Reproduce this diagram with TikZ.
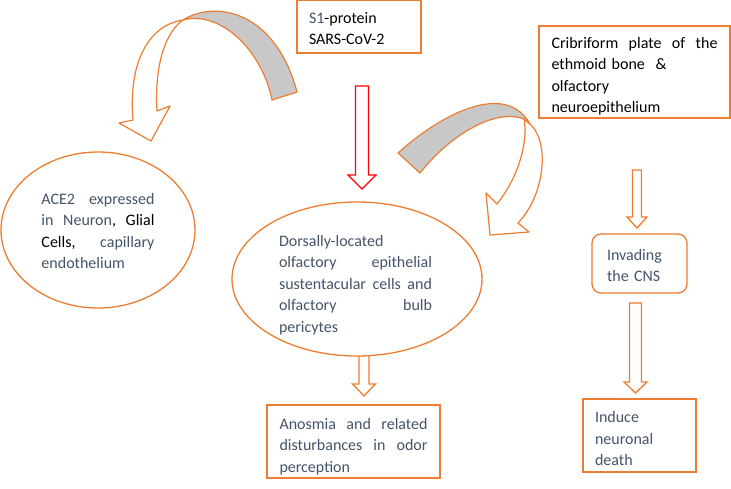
\documentclass[tikz,border=0pt]{standalone}
\usepackage{fontspec}
\setmainfont{Carlito}
\usetikzlibrary{shapes.geometric,calc}
\definecolor{org}{HTML}{ED7D31}
\definecolor{tb}{HTML}{44546A}
\definecolor{band}{HTML}{C8C8C8}
\newcommand{\blockarrow}[6]{%
  \draw[#1] ($(#2)+(-#4,0)$) -- ($(#3)+(-#4,-#6)$) -- ($(#3)+(-#5,-#6)$) -- (#3)
    -- ($(#3)+(#5,-#6)$) -- ($(#3)+(#4,-#6)$) -- ($(#2)+(#4,0)$) -- cycle;}
\begin{document}
\begin{tikzpicture}[x=1pt,y=-1pt,
  txt/.style={font=\fontsize{16}{21.5}\selectfont, text=tb, inner sep=0pt, align=left},
  obox/.style={draw=org, line width=1.3pt, fill=white, inner sep=0pt},
  oell/.style={ellipse, draw=org, line width=1.3pt, fill=white, inner sep=0pt},
  barrow/.style={draw=org, line width=1.3pt, fill=white, line join=miter},
  rarrow/.style={draw=red, line width=1.3pt, fill=white, line join=miter},
  curvebody/.style={draw=org, line width=1.2pt, fill=white, line join=round},
  curveband/.style={draw=org, line width=1.2pt, fill=band, line join=round}]

\useasboundingbox (0,0) rectangle (731,488);

% curved arrows
\draw[curvebody] (183,20) .. controls (150,25) and (128,60) .. (133,120) -- (119,123) -- (151,141) -- (170,106) -- (157,111) .. controls (154,60) and (168,30) .. (183,20) -- cycle;
\draw[curveband] (183,20) .. controls (215,0) and (275,10) .. (297,92) -- (272,100) .. controls (262,50) and (220,10) .. (183,20) -- cycle;

\draw[curvebody] (530,124) .. controls (550,142) and (545,195) .. (518,223) -- (529,232) -- (490,235) -- (486,193) -- (497,204) .. controls (520,175) and (528,140) .. (524,119) -- cycle;
\draw[curveband] (398,153) .. controls (440,115) and (505,80) .. (530,124) -- (524,119) .. controls (495,108) and (450,135) .. (420,173) -- cycle;

% arrow coordinates
\coordinate (ra1) at (362,86);   \coordinate (ra2) at (362,189);
\coordinate (oa1) at (364,350);  \coordinate (oa2) at (364,396);
\coordinate (pa1) at (637,170);  \coordinate (pa2) at (637,228);
\coordinate (qa1) at (635.5,303); \coordinate (qa2) at (635.5,393);

\blockarrow{rarrow}{ra1}{ra2}{6.5}{14}{14}
\blockarrow{barrow}{oa1}{oa2}{5}{11.5}{12}
\blockarrow{barrow}{pa1}{pa2}{4.5}{10}{11}
\blockarrow{barrow}{qa1}{qa2}{6}{11.5}{11}

% boxes
\node[obox, minimum width=124pt, minimum height=53pt] (s1) at (359,26.5) {};
\node[txt, text width=100pt, text=black] (s1t) at ($(s1)+(0,2)$)
  {{\color{tb}S1}-protein\\SARS-CoV-2};
\node[obox, minimum width=191pt, minimum height=92pt] (crib) at (634.5,72) {};
\node[txt, text width=166pt, text=black] (cribt) at ($(crib)+(0,4)$)
  {Cribriform\hfill plate\hfill of\hfill the\\ ethmoid bone \ \&\\ olfactory\\ neuroepithelium};
\node[obox, rounded corners=9pt, minimum width=95pt, minimum height=59pt] (cns) at (639.5,263.5) {};
\node[txt, text width=65pt] (cnst) at ($(cns)+(0,2)$) {Invading\\ the CNS};
\node[obox, minimum width=113pt, minimum height=73pt] (death) at (639.5,435.5) {};
\node[txt, text width=89pt] (deatht) at ($(death)+(0,3)$) {Induce\\ neuronal\\ death};
\node[obox, minimum width=173pt, minimum height=73pt] (anos) at (353.5,441.5) {};
\node[txt, text width=148pt] (anost) at ($(anos)+(0,5)$)
  {Anosmia\hfill and\hfill related\\ disturbances\hfill in\hfill odor\\ perception};

% ellipses
\node[oell, minimum width=194pt, minimum height=156pt] (ace) at (98,230) {};
\node[txt, text width=113pt] (acet) at ($(ace)+(0,1)$)
  {ACE2\hfill expressed\\ in\hfill Neuron{\color{black},}\hfill {\color{black}Glial}\\ {\color{black}Cells,}\hfill capillary\\ endothelium};
\node[oell, minimum width=250pt, minimum height=154pt] (dors) at (357,279) {};
\node[txt, text width=153pt] (dorst) at ($(dors)+(-1.5,6)$)
  {Dorsally-located\\ olfactory\hfill epithelial\\ sustentacular\hfill cells\hfill and\\ olfactory\hfill bulb\\ pericytes};

\end{tikzpicture}
\end{document}
